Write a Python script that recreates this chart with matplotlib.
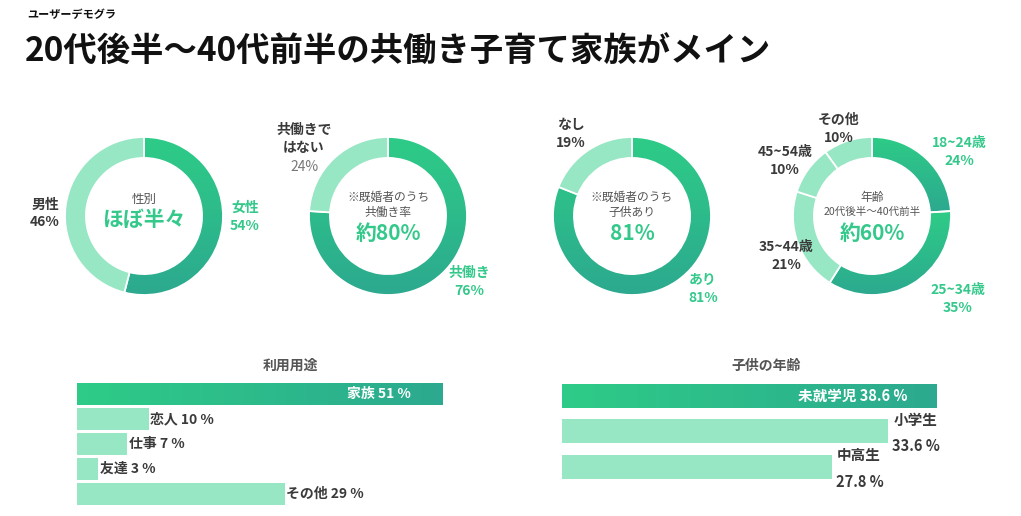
import numpy as np
import matplotlib
matplotlib.use('Agg')
import matplotlib.pyplot as plt
from matplotlib.colors import LinearSegmentedColormap

plt.rcParams['font.family'] = ['Noto Sans CJK JP', 'DejaVu Sans']

# ---- data ----
gender_labels = ['女性', '男性']
gender_values = [54, 46]

cowork_labels = ['共働き', '共働きではない']
cowork_values = [76, 24]

child_labels = ['あり', 'なし']
child_values = [81, 19]

age_labels = ['18~24歳', '25~34歳', '35~44歳', '45~54歳', 'その他']
age_values = [24, 35, 21, 10, 10]

usage_labels = ['家族', '恋人', '仕事', '友達', 'その他']
usage_values = [51, 10, 7, 3, 29]

kid_labels = ['未就学児', '小学生', '中高生']
kid_values = [38.6, 33.6, 27.8]

W, H = 1021, 516
GREEN_TOP = '#2ecc87'
GREEN_BOT = '#2ca98f'
LIGHT = '#97e6c4'
DARK = '#3a3a3a'
GREEN_TXT = '#34c98b'
GRAY = '#555555'

grad_cmap = LinearSegmentedColormap.from_list('g', [GREEN_TOP, GREEN_BOT])

fig = plt.figure(figsize=(W / 100, H / 100), dpi=100)
fig.patch.set_facecolor('white')


def fx(x, y):
    return x / W, 1 - y / H


def ftext(x, y, s, **kw):
    kw.setdefault('ha', 'center')
    kw.setdefault('va', 'center')
    fig.text(*fx(x, y), s, **kw)


def donut(cx, cy, values, dark, R=79, pad=1.2):
    ax = fig.add_axes([(cx - R * pad) / W, 1 - (cy + R * pad) / H,
                       2 * R * pad / W, 2 * R * pad / H])
    cols = [GREEN_TOP if d else LIGHT for d in dark]
    wedges, _ = ax.pie(values, radius=1, startangle=90, counterclock=False,
                       colors=cols,
                       wedgeprops=dict(width=0.265, edgecolor='white', linewidth=1.3))
    for w, d in zip(wedges, dark):
        if not d:
            continue
        ext = w.get_path().get_extents()
        grad = np.linspace(0, 1, 256).reshape(-1, 1)
        im = ax.imshow(grad, cmap=grad_cmap, aspect='auto', zorder=0,
                       extent=(ext.x0, ext.x1, ext.y0, ext.y1))
        im.set_clip_path(w)
        w.set_facecolor('none')
    ax.set_xlim(-pad, pad)
    ax.set_ylim(-pad, pad)
    ax.set_aspect('equal')
    ax.axis('off')
    return ax


# ---- header ----
fig.text(27 / W, 1 - 15 / H, 'ユーザーデモグラ', fontsize=8, fontweight='bold',
         color='#111111', ha='left', va='center')
fig.text(25 / W, 1 - 52 / H, '20代後半〜40代前半の共働き子育て家族がメイン',
         fontsize=24, fontweight='bold', color='#111111', ha='left', va='center')

# ---- donuts ----
cy = 216
donut(144, cy, gender_values, [True, False])
donut(388, cy, cowork_values, [True, False])
donut(632, cy, child_values, [True, False])
donut(872, cy, age_values, [True, True, False, False, False])

lab = dict(fontsize=10, fontweight='bold')

# gender
ftext(45, 205, gender_labels[1], color=DARK, **lab)
ftext(45, 222, f'{gender_values[1]}%', color=DARK, **lab)
ftext(245, 208, gender_labels[0], color=GREEN_TXT, **lab)
ftext(245, 226, f'{gender_values[0]}%', color=GREEN_TXT, **lab)
ftext(144, 199, '性別', fontsize=9, color=GRAY)
ftext(144, 219, 'ほぼ半々', fontsize=15, fontweight='bold', color=GREEN_TXT)

# co-working
ftext(304, 130, '共働きで', color=DARK, **lab)
ftext(304, 148, 'はない', color=DARK, **lab)
ftext(304, 167, f'{cowork_values[1]}%', fontsize=10, color='#777777')
ftext(469, 273, cowork_labels[0], color=GREEN_TXT, **lab)
ftext(469, 291, f'{cowork_values[0]}%', color=GREEN_TXT, **lab)
ftext(388, 197, '※既婚者のうち', fontsize=8.5, color=GRAY)
ftext(388, 212, '共働き率', fontsize=8.5, color=GRAY)
ftext(388, 233, '約80%', fontsize=15, fontweight='bold', color=GREEN_TXT)

# children
ftext(571, 125, child_labels[1], color=DARK, **lab)
ftext(571, 143, f'{child_values[1]}%', color=DARK, **lab)
ftext(703, 280, child_labels[0], color=GREEN_TXT, **lab)
ftext(703, 298, f'{child_values[0]}%', color=GREEN_TXT, **lab)
ftext(632, 197, '※既婚者のうち', fontsize=8.5, color=GRAY)
ftext(632, 212, '子供あり', fontsize=8.5, color=GRAY)
ftext(632, 233, f'{child_values[0]}%', fontsize=15, fontweight='bold', color=GREEN_TXT)

# age
age_pos = [(959, 143, GREEN_TXT), (958, 290, GREEN_TXT), (786, 247, DARK),
           (785, 152, DARK), (839, 120, DARK)]
for (x, y, c), l, v in zip(age_pos, age_labels, age_values):
    ftext(x, y, l, color=c, **lab)
    ftext(x, y + 18, f'{v}%', color=c, **lab)
ftext(872, 197, '年齢', fontsize=8.5, color=GRAY)
ftext(872, 212, '20代後半〜40代前半', fontsize=7.6, color=GRAY)
ftext(872, 233, '約60%', fontsize=15, fontweight='bold', color=GREEN_TXT)


def grad_bar(ax, bar):
    x0, y0 = bar.get_x(), bar.get_y()
    grad = np.linspace(0, 1, 256).reshape(1, -1)
    im = ax.imshow(grad, cmap=grad_cmap, aspect='auto', zorder=0,
                   extent=(x0, x0 + bar.get_width(), y0, y0 + bar.get_height()))
    im.set_clip_path(bar)
    bar.set_facecolor('none')


# ---- usage bars ----
px_per = 7.16
top, bot = 382, 506
ax1 = fig.add_axes([77 / W, 1 - bot / H, 60 * px_per / W, (bot - top) / H])
pos1 = np.arange(len(usage_values))
bars = ax1.barh(pos1, usage_values, height=0.89, color=LIGHT, linewidth=0)
grad_bar(ax1, bars[0])
ax1.set_xlim(0, 60)
ax1.set_ylim(len(usage_values) - 0.5, -0.5)
ax1.axis('off')
ax1.text(usage_values[0] - 4.4, pos1[0], f'{usage_labels[0]} {usage_values[0]} %',
         color='white', fontsize=10, fontweight='bold', ha='right', va='center')
for p, l, v in zip(pos1[1:], usage_labels[1:], usage_values[1:]):
    ax1.text(v + 0.25, p, f'{l} {v} %', color=DARK, fontsize=10,
             fontweight='bold', ha='left', va='center')
ftext(290, 366, '利用用途', fontsize=10, fontweight='bold', color=GRAY)

# ---- kids bars ----
px_per2 = 9.7
sp = 35.3
top2 = 396 - sp / 2
bot2 = 466.5 + sp / 2
ax2 = fig.add_axes([562 / W, 1 - bot2 / H, 45 * px_per2 / W, (bot2 - top2) / H])
pos2 = np.arange(len(kid_values))
bars2 = ax2.barh(pos2, kid_values, height=0.68, color=LIGHT, linewidth=0)
grad_bar(ax2, bars2[0])
ax2.set_xlim(0, 45)
ax2.set_ylim(len(kid_values) - 0.5, -0.5)
ax2.axis('off')
ax2.text(kid_values[0] - 3.0, pos2[0], f'{kid_labels[0]} {kid_values[0]} %',
         color='white', fontsize=10.5, fontweight='bold', ha='right', va='center')
for p, l, v in zip(pos2[1:], kid_labels[1:], kid_values[1:]):
    ax2.text(v + 0.55, p - 0.32, l, color=DARK, fontsize=10.5,
             fontweight='bold', ha='left', va='center')
    ax2.text(v + 0.4, p + 0.43, f'{v} %', color=DARK, fontsize=10.5,
             fontweight='bold', ha='left', va='center')
ftext(766, 366, '子供の年齢', fontsize=10, fontweight='bold', color=GRAY)

fig.savefig('out.png', dpi=100, facecolor='white')
